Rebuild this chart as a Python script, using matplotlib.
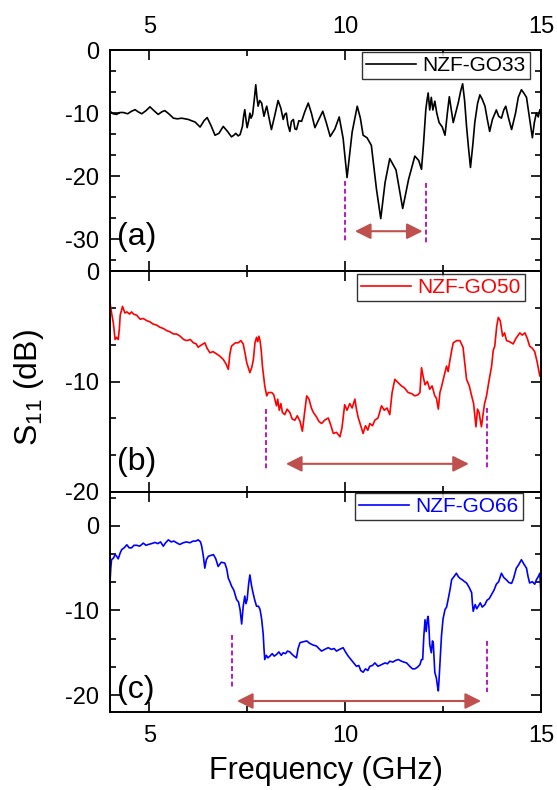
import matplotlib
matplotlib.use("Agg")
import matplotlib.pyplot as plt
from matplotlib.ticker import MultipleLocator, AutoMinorLocator

plt.rcParams['font.family'] = ['Liberation Sans', 'DejaVu Sans']
plt.rcParams['axes.unicode_minus'] = False
plt.rcParams['mathtext.fontset'] = 'custom'
plt.rcParams['mathtext.rm'] = 'Liberation Sans'
plt.rcParams['mathtext.it'] = 'Liberation Sans'

# ---------------- data ----------------
freq_a = [4.0, 4.08, 4.17, 4.25, 4.34, 4.45, 4.55, 4.64, 4.72, 4.81, 4.92, 5.02, 5.12, 5.23, 5.32,
          5.40, 5.50, 5.62, 5.72, 5.83, 5.92, 6.0, 6.08, 6.17, 6.30, 6.40, 6.48, 6.58, 6.68, 6.78,
          6.89, 7.0, 7.10, 7.16, 7.21, 7.27, 7.32, 7.38, 7.41, 7.44, 7.47, 7.50, 7.54, 7.57, 7.60,
          7.64, 7.68, 7.72, 7.75, 7.78, 7.82, 7.87, 7.90, 7.93, 7.97, 8.0, 8.06, 8.12, 8.20, 8.29,
          8.36, 8.42, 8.46, 8.50, 8.54, 8.59, 8.63, 8.68, 8.72, 8.76, 8.82, 8.89, 8.97, 9.06, 9.14,
          9.23, 9.33, 9.43, 9.52, 9.62, 9.74, 9.85, 9.95, 10.05, 10.18, 10.31, 10.39, 10.46, 10.56, 10.67,
          10.80, 10.91, 11.02, 11.14, 11.30, 11.47, 11.62, 11.78, 11.88, 11.95, 12.0, 12.06, 12.09, 12.12, 12.16,
          12.2, 12.24, 12.29, 12.34, 12.40, 12.48, 12.55, 12.61, 12.66, 12.71, 12.76, 12.82, 12.89, 12.95, 13.0,
          13.05, 13.1, 13.15, 13.2, 13.26, 13.31, 13.38, 13.44, 13.50, 13.57, 13.63, 13.69, 13.76, 13.86, 13.92,
          13.99, 14.05, 14.1, 14.18, 14.25, 14.35, 14.42, 14.5, 14.56, 14.63, 14.70, 14.78, 14.83, 14.88, 14.93,
          14.97, 15.0]
s11_a = [-9.7, -10.1, -10.2, -9.9, -9.9, -10.1, -9.7, -9.45, -9.8, -10.1, -9.6, -9.0, -9.6, -10.2, -9.8,
         -9.6, -10.1, -10.8, -10.9, -10.8, -10.9, -11.0, -11.2, -11.4, -12.2, -11.2, -10.7, -12.0, -13.5, -13.2,
         -12.1, -12.9, -13.75, -13.5, -13.2, -13.6, -13.4, -12.1, -10.5, -9.45, -11.0, -12.3, -11.2, -10.0, -10.8,
         -10.2, -8.0, -5.5, -7.5, -8.9, -8.0, -8.4, -9.5, -10.5, -9.5, -8.9, -10.8, -12.6, -10.5, -8.0,
         -9.2, -11.0, -10.2, -10.0, -11.8, -12.9, -11.3, -11.0, -12.5, -12.6, -11.2, -11.3, -9.8, -8.4, -10.0,
         -12.3, -11.0, -9.7, -11.5, -13.7, -12.5, -10.6, -14.0, -20.2, -13.0, -8.9, -10.8, -13.5, -13.9, -15.1,
         -22.0, -26.7, -21.0, -17.2, -19.0, -25.1, -20.5, -16.8, -17.5, -18.9, -15.0, -9.45, -8.0, -6.8, -9.5,
         -7.5, -9.5, -8.1, -10.0, -11.5, -12.2, -13.5, -10.0, -7.4, -9.5, -11.5, -10.0, -8.3, -6.5, -5.35,
         -8.0, -12.1, -15.5, -18.6, -15.0, -11.5, -8.5, -7.1, -7.8, -8.9, -11.0, -12.9, -11.0, -9.5, -10.5,
         -10.8, -9.5, -8.9, -11.0, -12.6, -10.0, -7.5, -6.3, -6.8, -7.5, -10.5, -13.9, -11.5, -10.0, -10.6,
         -9.45, -10.0]

freq_b = [4.0, 4.04, 4.085, 4.13, 4.17, 4.21, 4.24, 4.26, 4.32, 4.38, 4.43, 4.5, 4.55, 4.6, 4.68,
          4.77, 4.85, 4.94, 5.02, 5.1, 5.19, 5.28, 5.36, 5.45, 5.53, 5.62, 5.70, 5.79, 5.88, 5.96,
          6.05, 6.13, 6.2, 6.25, 6.33, 6.42, 6.48, 6.55, 6.63, 6.72, 6.80, 6.89, 6.96, 7.02, 7.06,
          7.10, 7.2, 7.27, 7.34, 7.40, 7.45, 7.49, 7.57, 7.62, 7.66, 7.70, 7.74, 7.77, 7.80, 7.83,
          7.86, 7.89, 7.95, 8.0, 8.04, 8.08, 8.13, 8.18, 8.22, 8.25, 8.28, 8.32, 8.36, 8.40, 8.46,
          8.52, 8.59, 8.65, 8.72, 8.78, 8.85, 8.91, 8.96, 9.02, 9.08, 9.14, 9.19, 9.27, 9.33, 9.4,
          9.48, 9.57, 9.63, 9.70, 9.78, 9.87, 9.92, 9.99, 10.05, 10.12, 10.18, 10.25, 10.29, 10.33, 10.40,
          10.46, 10.52, 10.58, 10.63, 10.70, 10.76, 10.84, 10.93, 11.0, 11.07, 11.14, 11.2, 11.27, 11.35, 11.44,
          11.52, 11.61, 11.70, 11.78, 11.86, 11.91, 11.95, 11.99, 12.04, 12.10, 12.16, 12.22, 12.29, 12.33, 12.38,
          12.42, 12.46, 12.52, 12.59, 12.63, 12.67, 12.72, 12.76, 12.85, 12.93, 13.01, 13.06, 13.1, 13.17, 13.23,
          13.28, 13.34, 13.38, 13.42, 13.45, 13.48, 13.52, 13.56, 13.61, 13.67, 13.74, 13.78, 13.82, 13.87, 13.91,
          13.96, 14.02, 14.07, 14.12, 14.2, 14.29, 14.36, 14.46, 14.52, 14.59, 14.65, 14.71, 14.78, 14.84, 14.9,
          14.97, 15.0]
s11_b = [-2.85, -3.8, -4.7, -6.2, -6.0, -6.2, -5.2, -4.0, -3.2, -3.8, -3.7, -3.9, -3.7, -3.9, -4.0,
         -4.36, -4.3, -4.5, -4.6, -4.8, -4.9, -5.1, -5.2, -5.4, -5.5, -5.7, -5.7, -5.9, -6.2, -6.3,
         -6.2, -6.5, -6.6, -6.9, -6.7, -6.5, -7.0, -7.4, -7.3, -7.5, -7.7, -8.0, -8.4, -8.9, -7.5,
         -6.8, -6.5, -6.5, -6.3, -6.6, -7.5, -8.3, -9.2, -8.7, -8.0, -6.5, -6.0, -6.4, -5.9, -6.3,
         -7.2, -8.6, -10.4, -11.3, -11.0, -11.0, -11.0, -11.2, -11.8, -12.2, -11.6, -12.6, -12.0, -12.8, -13.0,
         -12.5, -12.8, -13.4, -13.5, -13.1, -13.6, -14.5, -13.0, -11.3, -11.6, -12.4, -12.8, -13.2, -13.6, -13.8,
         -13.5, -13.3, -13.9, -14.7, -14.6, -15.0, -14.2, -12.1, -12.6, -12.0, -12.4, -11.6, -12.5, -13.2, -14.0,
         -14.7, -14.0, -14.4, -13.8, -14.0, -13.5, -13.3, -12.2, -12.6, -12.4, -13.0, -11.0, -9.8, -10.1, -10.4,
         -10.6, -11.0, -11.1, -11.3, -11.2, -11.0, -8.75, -9.5, -10.3, -10.0, -10.7, -10.4, -11.3, -11.5, -12.5,
         -11.0, -10.5, -9.6, -8.6, -9.1, -8.2, -7.2, -6.5, -6.3, -6.3, -6.9, -8.5, -9.8, -10.4, -11.3,
         -12.0, -14.1, -12.5, -12.8, -13.5, -14.1, -13.0, -12.0, -11.3, -10.0, -8.6, -7.2, -6.8, -5.0, -4.2,
         -4.5, -5.9, -5.6, -6.3, -6.4, -6.6, -6.1, -5.6, -5.8, -5.6, -6.1, -6.8, -7.0, -7.3, -8.2,
         -9.5, -9.6]

freq_c = [4.0, 4.02, 4.04, 4.09, 4.13, 4.17, 4.21, 4.26, 4.30, 4.36, 4.43, 4.49, 4.55, 4.61, 4.68,
          4.76, 4.85, 4.92, 4.98, 5.06, 5.15, 5.22, 5.29, 5.36, 5.42, 5.49, 5.56, 5.63, 5.70, 5.78,
          5.87, 5.95, 6.04, 6.12, 6.19, 6.25, 6.31, 6.34, 6.38, 6.42, 6.46, 6.51, 6.57, 6.64, 6.70,
          6.76, 6.84, 6.93, 6.98, 7.02, 7.06, 7.10, 7.16, 7.23, 7.28, 7.32, 7.36, 7.40, 7.44, 7.47,
          7.50, 7.54, 7.57, 7.61, 7.64, 7.69, 7.74, 7.79, 7.83, 7.87, 7.91, 7.93, 7.95, 7.99, 8.03,
          8.08, 8.14, 8.19, 8.25, 8.31, 8.37, 8.42, 8.48, 8.53, 8.59, 8.65, 8.70, 8.76, 8.80, 8.85,
          8.93, 9.02, 9.10, 9.19, 9.27, 9.33, 9.40, 9.48, 9.57, 9.65, 9.72, 9.78, 9.86, 9.95, 10.01,
          10.08, 10.15, 10.22, 10.29, 10.35, 10.40, 10.46, 10.52, 10.58, 10.63, 10.70, 10.76, 10.84, 10.93, 11.02,
          11.08, 11.14, 11.22, 11.29, 11.36, 11.44, 11.50, 11.57, 11.65, 11.72, 11.78, 11.85, 11.91, 11.95, 11.98,
          12.01, 12.04, 12.07, 12.10, 12.12, 12.14, 12.16, 12.2, 12.23, 12.25, 12.27, 12.29, 12.33, 12.36, 12.38,
          12.40, 12.43, 12.46, 12.50, 12.55, 12.59, 12.63, 12.68, 12.72, 12.78, 12.84, 12.89, 12.93, 13.0, 13.05,
          13.1, 13.17, 13.23, 13.25, 13.27, 13.32, 13.36, 13.4, 13.45, 13.50, 13.57, 13.62, 13.68, 13.74, 13.80,
          13.86, 13.92, 13.99, 14.05, 14.12, 14.18, 14.25, 14.30, 14.37, 14.43, 14.5, 14.56, 14.63, 14.67, 14.71,
          14.78, 14.84, 14.88, 14.93, 14.97, 15.0]
s11_c = [-6.7, -5.0, -4.0, -3.8, -3.4, -3.6, -3.9, -3.2, -2.8, -2.6, -2.24, -2.6, -2.6, -2.3, -2.3,
         -2.4, -2.04, -2.3, -2.2, -2.1, -1.96, -2.1, -1.9, -2.4, -2.0, -1.65, -1.9, -1.8, -2.0, -2.2,
         -2.0, -1.9, -2.0, -1.8, -1.8, -1.65, -1.9, -2.4, -3.5, -5.0, -4.0, -3.6, -3.5, -3.4, -3.9,
         -4.8, -4.3, -4.4, -5.1, -6.2, -6.6, -7.1, -7.6, -8.7, -9.0, -9.9, -11.6, -9.5, -8.3, -9.2,
         -8.7, -6.8, -5.8, -7.0, -7.7, -8.7, -9.5, -9.5, -9.9, -11.0, -12.8, -14.5, -15.8, -15.3, -15.6,
         -15.4, -15.1, -15.4, -15.2, -14.9, -15.3, -15.0, -15.1, -14.8, -14.9, -15.2, -15.4, -15.6, -14.5, -13.8,
         -13.7, -13.6, -13.9, -14.1, -14.2, -14.5, -14.8, -14.6, -14.4, -14.6, -14.5, -14.8, -14.6, -14.4, -14.9,
         -15.4, -15.8, -16.2, -16.6, -16.5, -17.1, -17.3, -16.9, -17.1, -16.6, -16.5, -16.2, -16.6, -16.4, -16.2,
         -16.3, -16.0, -16.1, -15.9, -15.8, -16.0, -16.1, -16.2, -16.6, -16.9, -16.9, -16.7, -16.4, -15.8, -15.8,
         -13.0, -11.1, -12.5, -11.0, -10.7, -12.0, -14.0, -15.0, -13.6, -13.8, -15.5, -17.3, -18.0, -19.0, -19.5,
         -18.0, -15.5, -13.0, -11.0, -9.9, -9.6, -8.7, -7.5, -6.35, -6.0, -5.6, -6.0, -6.2, -6.4, -6.6,
         -6.75, -7.3, -7.9, -9.2, -10.1, -9.3, -9.8, -9.5, -9.1, -9.6, -9.3, -8.8, -8.6, -8.1, -7.6,
         -6.9, -6.6, -5.6, -6.1, -6.4, -6.7, -6.8, -6.2, -5.0, -4.6, -4.0, -4.5, -5.0, -6.0, -6.75,
         -6.6, -6.9, -6.4, -6.0, -5.6, -8.3]

series_labels = ['NZF-GO33', 'NZF-GO50', 'NZF-GO66']
panel_tags = ['(a)', '(b)', '(c)']
x_ticks = [5, 10, 15]

# bandwidth markers: dashed lines (x, y_top, y_bottom) and arrow (x_start, x_end, y)
dash_a = [(10.0, -20.8, -30.2), (12.06, -21.1, -30.7)]
dash_b = [(7.98, -12.5, -18.0), (13.62, -12.4, -18.0)]
dash_c = [(7.11, -12.9, -19.3), (13.62, -13.6, -19.6)]
arrow_a = (10.25, 11.98, -28.7)
arrow_b = (8.49, 13.16, -17.45)
arrow_c = (7.24, 13.47, -20.7)

# ---------------- figure ----------------
W, H = 557, 790
fig = plt.figure(figsize=(W / 100, H / 100), dpi=100)

left = 110 / W
width = (541 - 110) / W
def ax_rect(top_px, bot_px):
    return [left, 1 - bot_px / H, width, (bot_px - top_px) / H]

axes = [fig.add_axes(ax_rect(50, 271)),
        fig.add_axes(ax_rect(271, 492)),
        fig.add_axes(ax_rect(492, 712))]

freqs = [freq_a, freq_b, freq_c]
vals = [s11_a, s11_b, s11_c]
colors = ['black', '#ff0000', '#0000ff']
ylims = [(-35, 0), (-20, 0), (-22, 4)]
dashes = [dash_a, dash_b, dash_c]
arrows = [arrow_a, arrow_b, arrow_c]
legend_anchor = [(0.9745, 0.991), (0.963, 0.986), (0.958, 0.995)]
tag_y = [0.155, 0.136, 0.10]

for i, ax in enumerate(axes):
    ax.plot(freqs[i], vals[i], color=colors[i], lw=1.2, label=series_labels[i])
    ax.set_xlim(4, 15)
    ax.set_ylim(*ylims[i])
    ax.xaxis.set_major_locator(MultipleLocator(5))
    ax.xaxis.set_minor_locator(MultipleLocator(2.5))
    ax.yaxis.set_major_locator(MultipleLocator(10))
    ax.yaxis.set_minor_locator(AutoMinorLocator(3))
    ax.tick_params(which='both', direction='in', top=True, right=True, width=1.2)
    ax.tick_params(which='major', length=7)
    ax.tick_params(which='minor', length=4.5)
    ax.tick_params(axis='y', labelsize=17, pad=8)
    ax.tick_params(axis='x', labelsize=17, pad=9)
    for sp in ax.spines.values():
        sp.set_linewidth(1.4)
    if i == 0:
        ax.tick_params(axis='x', labeltop=True, labelbottom=False)
    elif i == 1:
        ax.tick_params(axis='x', labelbottom=False)
    # dashed band edges
    for (xd, y1, y2) in dashes[i]:
        ax.plot([xd, xd], [y1, y2], color='#b818c8', lw=1.4, ls=(0, (2.5, 1.5)))
    xa, xb, ya = arrows[i]
    ax.annotate('', xy=(xb, ya), xytext=(xa, ya),
                arrowprops=dict(arrowstyle='<|-|>,head_length=0.8,head_width=0.4',
                                color='#c0504d', lw=1.5, mutation_scale=12,
                                shrinkA=0, shrinkB=0))
    leg = ax.legend(loc='upper right', bbox_to_anchor=legend_anchor[i], borderaxespad=0,
                    fontsize=15, frameon=True, fancybox=False, handlelength=2.4,
                    handletextpad=0.3, borderpad=0.2, labelcolor=colors[i])
    leg.get_frame().set_edgecolor('black')
    leg.get_frame().set_linewidth(1.0)
    ax.text(0.016, tag_y[i], panel_tags[i], transform=ax.transAxes, fontsize=23,
            ha='left', va='center')

axes[2].set_xticks(x_ticks)
axes[2].set_xlabel('Frequency (GHz)', fontsize=22, labelpad=7)
fig.text(0.052, 0.509, 'S$_{11}$ (dB)', rotation=90, fontsize=23, ha='center', va='center')

fig.savefig('out.png', dpi=100)
